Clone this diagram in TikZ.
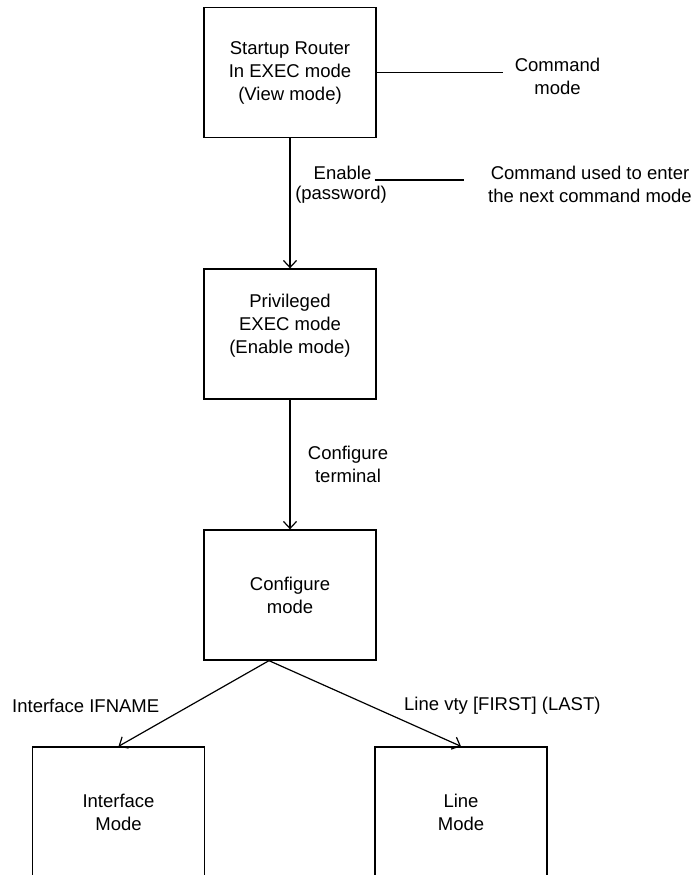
\documentclass[tikz,border=0pt]{standalone}
\usepackage{fontspec}
\setmainfont{Liberation Sans}
\usetikzlibrary{arrows.meta}

\tikzset{
  modebox/.style={draw, line width=1.3pt, minimum width=172pt, minimum height=130pt, align=center, inner sep=0pt},
  flow/.style={line width=1.2pt, -{Straight Barb[length=7pt,width=13pt,line width=1.2pt]}},
  note/.style={align=center, inner sep=3pt}
}

\begin{document}
\begin{tikzpicture}[x=1pt,y=-1pt,font=\fontsize{18.5}{23}\selectfont]
\useasboundingbox (0,0) rectangle (695,875);
\node[modebox] (start) at (290,72.5) {Startup Router\\In EXEC mode\\(View mode)};
\node[modebox, text depth=20pt] (priv) at (290,334) {Privileged\\EXEC mode\\(Enable mode)};
\node[modebox] (conf) at (290,595) {Configure\\mode};
\node[modebox] (ifmode) at (118.5,812) {Interface\\Mode};
\node[modebox] (linemode) at (461,812) {Line\\Mode};
\node[note, inner xsep=12pt] (cmdmode) at (557.5,76) {Command\\mode};
\node[note] (enable) at (342.5,173) {Enable};
\node[note] (password) at (341,195) {(password)};
\node[note, inner xsep=24pt] (cmdused) at (590,184) {Command used to enter\\the next command mode};
\node[note] (confterm) at (348,464) {Configure\\terminal};
\node[anchor=west, inner sep=0pt] (iflabel) at (12,706) {Interface IFNAME};
\node[anchor=west, inner sep=0pt] (linelabel) at (404,706) {Line vty [FIRST] (LAST)};
\draw[line width=1.2pt] (start.east) -- (start.east -| cmdmode.west);
\draw[line width=2pt] (enable.base east) -- (enable.base east -| cmdused.west);
\draw[flow] (start.south) -- (priv.north);
\draw[flow] (priv.south) -- (conf.north);
\draw[flow] ([xshift=-21pt]conf.south) -- (ifmode.north);
\draw[flow] ([xshift=-21pt]conf.south) -- (linemode.north);
\end{tikzpicture}
\end{document}
